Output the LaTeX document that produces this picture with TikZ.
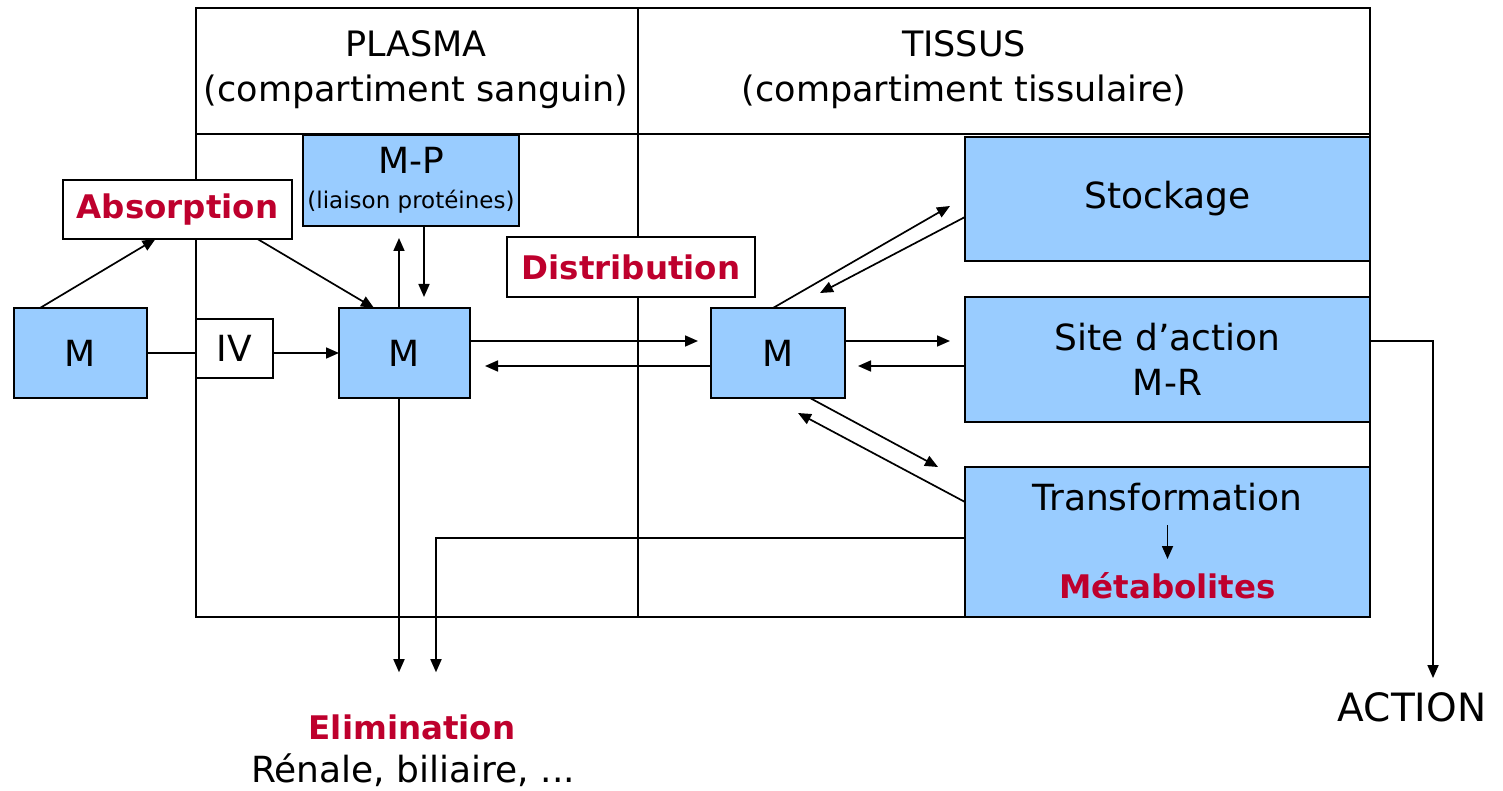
\documentclass[tikz,border=0pt]{standalone}
\usepackage{fontspec}
\setmainfont{DejaVu Sans}
\usetikzlibrary{arrows.meta,calc}
\definecolor{boxblue}{RGB}{153,204,255}
\definecolor{labelred}{RGB}{190,0,45}
\tikzset{
  base/.style={draw=black, line width=1.8pt, inner sep=0pt, outer sep=0pt, align=center,
    font=\fontsize{36}{45}\selectfont},
  bluebox/.style={base, fill=boxblue},
  whitebox/.style={base, fill=white},
  redlabel/.style={text=labelred, font=\bfseries\fontsize{32.5}{38}\selectfont},
  plain/.style={inner sep=0pt, align=center, font=\fontsize{36}{45}\selectfont},
  header/.style={inner sep=0pt, align=center, font=\fontsize{35}{45}\selectfont},
  link/.style={line width=1.7pt},
  arr/.style={line width=1.7pt, -{Triangle[length=13pt,width=11pt]}},
}
\begin{document}
\begin{tikzpicture}[x=1pt,y=-1pt]
\useasboundingbox (0,0) rectangle (1503,791);

% compartment frame
\draw[line width=1.8pt] (196,8) rectangle (1370,617);
\draw[line width=1.8pt] (196,134) -- (1370,134);
\draw[line width=1.8pt] (638,8) -- (638,617);

% headers
\node[header] (hplasma) at (416,70) {PLASMA\\(compartiment sanguin)};
\node[header] (htissus) at (964,70) {TISSUS\\(compartiment tissulaire)};

% boxes
\node[whitebox, minimum width=229pt, minimum height=59pt, redlabel] (abs) at (177.5,209.5) {Absorption};
\node[bluebox, minimum width=216pt, minimum height=91pt] (mp) at (411,180.5) {};
\node[plain] (mptxt) at (411,160) {M-P};
\node[inner sep=0pt, font=\fontsize{23}{26}\selectfont] (mpsub) at (411,202) {(liaison protéines)};
\node[bluebox, minimum width=133pt, minimum height=90pt] (mL) at (80.5,353) {M};
\node[whitebox, minimum width=77pt, minimum height=59pt] (iv) at (234.5,348.5) {IV};
\node[bluebox, minimum width=131pt, minimum height=90pt] (mM) at (404.5,353) {M};
\node[whitebox, minimum width=248pt, minimum height=60pt, redlabel] (dist) at (631,267) {Distribution};
\node[bluebox, minimum width=134pt, minimum height=90pt] (mR) at (778,353) {M};
\node[bluebox, minimum width=405pt, minimum height=124pt] (stock) at (1167.5,199) {Stockage};
\node[bluebox, minimum width=405pt, minimum height=125pt] (site) at (1167.5,359.5) {Site d'action\\M-R};
\node[bluebox, minimum width=405pt, minimum height=150pt] (trans) at (1167.5,542) {};
\node[plain] (transT) at (1167.5,497) {Transformation};
\node[plain, redlabel] (transM) at (1167.5,586) {Métabolites};

% outside labels
\node[plain, redlabel] (elim) at (412,727) {Elimination};
\node[plain] (elimsub) at (413,770) {Rénale, biliaire, ...};
\node[inner sep=0pt, font=\fontsize{39}{45}\selectfont] (action) at (1412,707) {ACTION};

% absorption
\draw[arr] ($(mL.north west)+(26,0)$) -- ($(abs.south)+(-22,0)$);
\draw[arr] ($(abs.south)+(80,0)$) -- ($(mM.north west)+(35,0)$);
\draw[link] (mL.east) -- (iv.west |- mL.east);
\draw[arr] (iv.east |- mL.east) -- (mL.east -| mM.west);

% protein binding
\draw[arr] ($(mM.north west)+(60,0)$) -- ($(mp.south west)+(96,12)$);
\draw[arr] ($(mp.south west)+(121,0)$) -- ($(mM.north west)+(85,-11)$);

% distribution plasma <-> tissue
\draw[arr] ($(mM.north east)+(0,33)$) -- ($(mR.north west)+(-13,33)$);
\draw[arr] ($(mR.north west)+(0,58)$) -- ($(mM.north east)+(15,58)$);

% tissue exchanges
\draw[arr] ($(mR.north west)+(62,0)$) -- ($(stock.north west)+(-15,69)$);
\draw[arr] ($(stock.north west)+(0,80)$) -- ($(mR.north west)+(109,-15)$);
\draw[arr] ($(mR.north east)+(0,33)$) -- ($(site.north west)+(-15,44)$);
\draw[arr] ($(site.north west)+(0,69)$) -- ($(mR.north east)+(13,58)$);
\draw[arr] ($(mR.south west)+(99,0)$) -- ($(trans.north west)+(-27,0)$);
\draw[arr] ($(trans.north west)+(0,35)$) -- ($(mR.south west)+(87,15)$);
\draw[arr] ($(transT.center)+(0,28)$) -- ($(transM.center)+(0,-27)$);

% elimination
\coordinate (elimA) at ($(elim.north)+(-13,-42)$);
\coordinate (elimB) at ($(elim.north)+(24,-42)$);
\draw[arr] ($(mM.south west)+(60,0)$) -- (elimA -| {$(mM.south west)+(60,0)$});
\draw[arr] ($(trans.north west)+(0,71)$) -| (elimB);

% action
\coordinate (actTip) at ($(action.north)+(21,-14)$);
\draw[arr] ($(site.north east)+(0,44)$) -| (actTip);
\end{tikzpicture}
\end{document}
